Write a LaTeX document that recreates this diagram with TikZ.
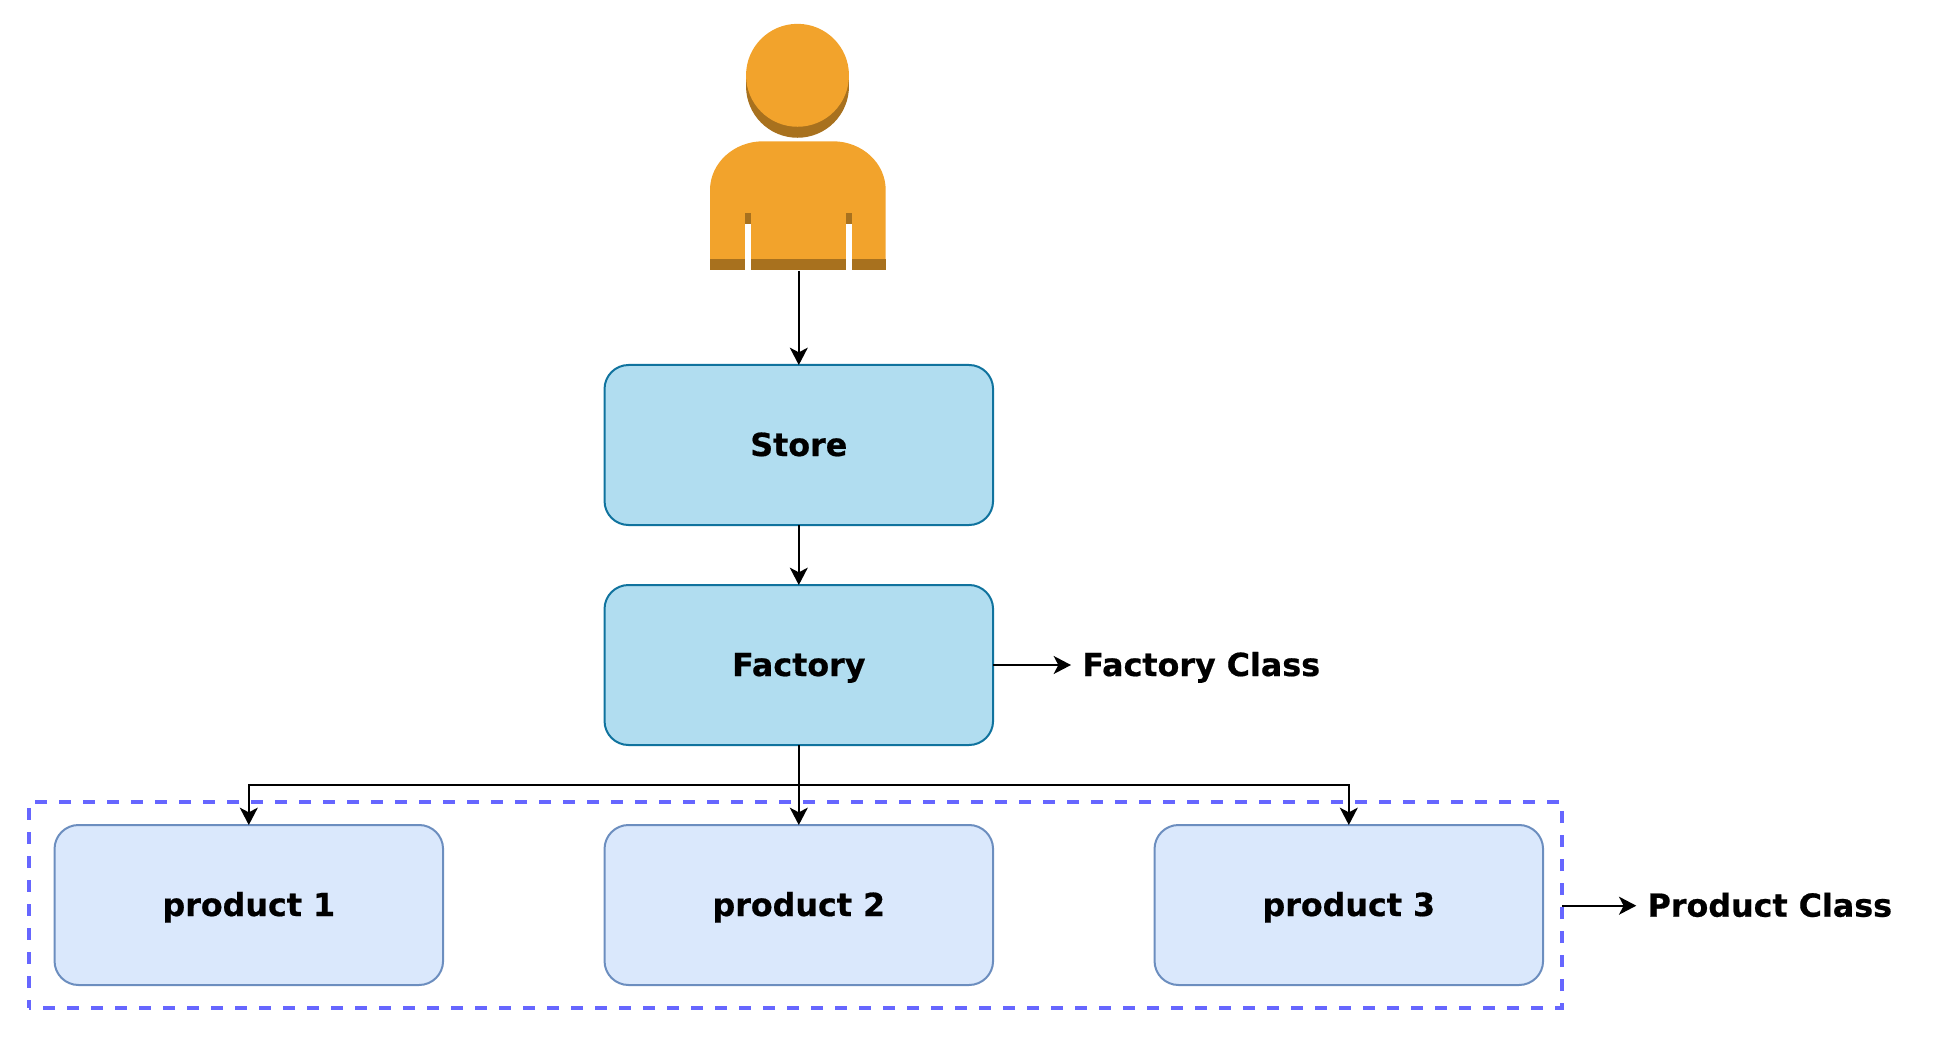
\documentclass[tikz,border=0pt]{standalone}
\usepackage{fontspec}
\setmainfont{DejaVu Sans}[BoldFeatures={FakeBold=0.6}]
\usetikzlibrary{arrows.meta}
\tikzstyle{diagram} = [x = .75pt, y = -.75pt, every node/.style={font=\fontsize{23.8}{28}\selectfont\bfseries, text height=16.5pt, text depth=0pt}]
\definecolor{storeFill}{HTML}{B1DDF0}
\definecolor{storeLine}{HTML}{10739E}
\definecolor{productFill}{HTML}{DAE8FC}
\definecolor{productLine}{HTML}{6C8EBF}
\definecolor{groupLine}{HTML}{6666FF}
\definecolor{userLight}{HTML}{F2A32C}
\definecolor{userDark}{HTML}{A8711E}
\tikzstyle{boxStyle} = [draw, line width=1.5pt, rounded corners=18pt, minimum width=291.4pt, minimum height=120pt, inner sep=0pt, outer sep=0pt]
\tikzstyle{storeStyle} = [boxStyle, draw=storeLine, fill=storeFill]
\tikzstyle{productStyle} = [boxStyle, draw=productLine, fill=productFill]
\tikzstyle{groupStyle} = [draw=groupLine, line width=3pt, dash pattern=on 9pt off 9pt, dash phase=7.5pt, minimum width=1149.75pt, minimum height=154.5pt, inner sep=0pt, outer sep=0pt]
\tikzstyle{classLabel} = [anchor=west, inner xsep=8.5pt, inner ysep=0pt, outer sep=0pt]
\tikzstyle{arrowLine} = [line width=1.5pt, -{Stealth[length=13pt, width=13.5pt, inset=3.5pt]}]
\newcommand{\productBox}[3]{\node [productStyle] (#1) at (#2, 905) {#3};}
\newcommand{\userHead}{
  \fill [userDark] (797.5,86.3) circle [radius=38.6pt];
  \fill [userDark] (746,75.3) rectangle (849,86.3);
  \fill [userLight] (797.5,75.3) circle [radius=38.6pt];
}
\newcommand{\userBody}{
  \fill [userLight] (710,259) -- (710,190) .. controls (710,163) and (734,141.3) .. (763,141.3) -- (833,141.3) .. controls (862,141.3) and (885.7,163) .. (885.7,190) -- (885.7,259) -- cycle;
  \fill [userDark] (710,259) rectangle (885.7,269.7);
  \foreach \slit in {745,846.3} {
    \fill [userDark] (\slit,212.7) rectangle +(5.7,11.6);
    \fill [white] (\slit,224.3) rectangle (\slit+5.7,269.7);
  }
}
\begin{document}
\begin{tikzpicture}[diagram]
  \useasboundingbox (0,0) rectangle (1938,1048);
  \node [inner sep=0pt, minimum width=132pt, minimum height=185pt] (userIcon) at (797.8,147) {};
  \userHead
  \userBody
  \coordinate (userFoot) at (798.8,271);
  \coordinate (busPoint) at (798.8,785);
  \node [groupStyle] (productGroup) at (795.5,905) {};
  \node [storeStyle] (storeBox) at (798.8,445) {Store};
  \node [storeStyle] (factoryBox) at (798.8,665) {Factory};
  \productBox{productOne}{248.8}{product 1}
  \productBox{productTwo}{798.8}{product 2}
  \productBox{productThree}{1348.8}{product 3}
  \node [classLabel] (factoryLabel) at (1071,665) {Factory Class};
  \node [classLabel] (productLabel) at (1636.3,905.7) {Product Class};
  \draw [arrowLine] (userFoot) -- (storeBox);
  \draw [arrowLine] (storeBox) -- (factoryBox);
  \draw [arrowLine] (factoryBox) -- (factoryLabel);
  \draw [arrowLine] (factoryBox) -- (productTwo);
  \draw [arrowLine] (busPoint) -| (productOne);
  \draw [arrowLine] (busPoint) -| (productThree);
  \draw [arrowLine] (productGroup.east |- productLabel.west) -- (productLabel.west);
\end{tikzpicture}
\end{document}
